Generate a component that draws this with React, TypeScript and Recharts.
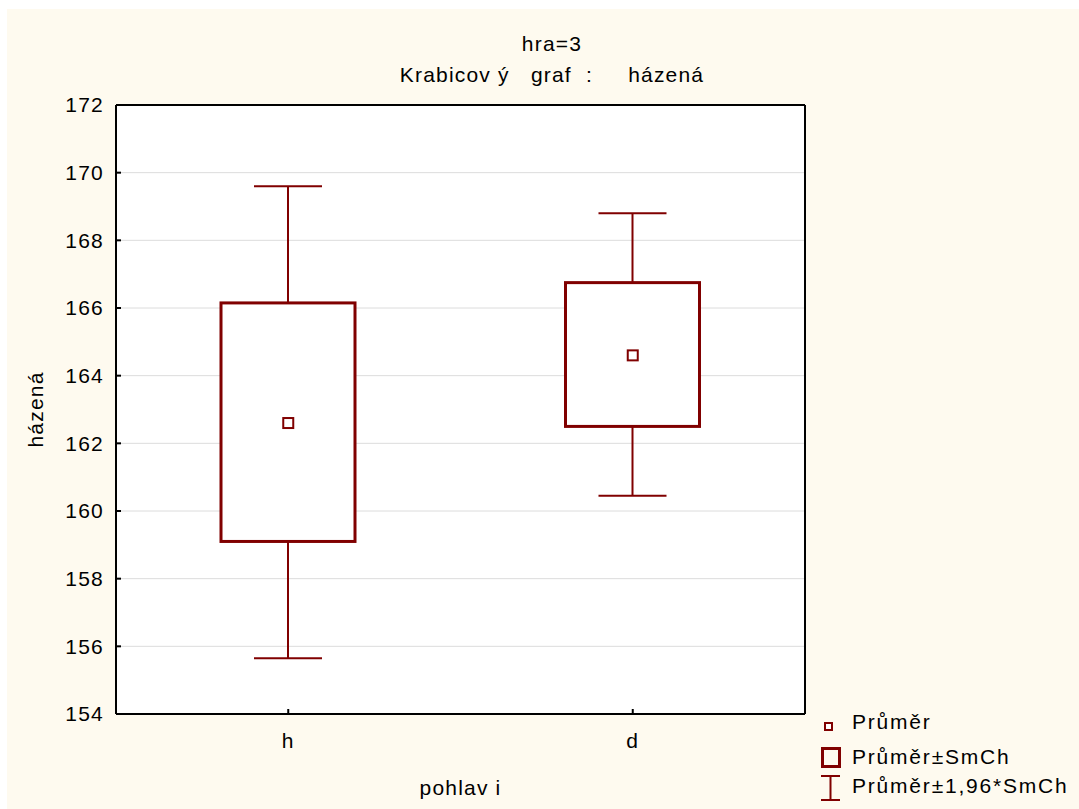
import { Bar, CartesianGrid, ComposedChart, Line, XAxis, YAxis } from "recharts";

// skupiny (pohlaví) a hodnoty pro házenou, hra=3
const categories = ["h", "d"];
const meanValues = [162.6, 164.6];
const seLow = [159.1, 162.5];
const seHigh = [166.15, 166.75];
const ciLow = [155.65, 160.45];
const ciHigh = [169.6, 168.8];
const yTicks = [154, 156, 158, 160, 162, 164, 166, 168, 170, 172];

const MAROON = "#800000";
const CREAM = "#fefaef";
const FONT = '"Liberation Sans", Arial, sans-serif';

const rows = categories.map((name, i) => ({
  name,
  mean: meanValues[i],
  box: [seLow[i], seHigh[i]],
  whisker: [ciLow[i], ciHigh[i]],
}));

function WhiskerShape(props: any) {
  const { x, y, width, height } = props;
  const top = Math.min(y, y + height);
  const bottom = Math.max(y, y + height);
  const cx = x + width / 2;
  return (
    <g stroke={MAROON} strokeWidth={2} fill="none">
      <line x1={cx} y1={top} x2={cx} y2={bottom} />
      <line x1={x} y1={top} x2={x + width} y2={top} />
      <line x1={x} y1={bottom} x2={x + width} y2={bottom} />
    </g>
  );
}

function BoxShape(props: any) {
  const { x, y, width, height } = props;
  const top = Math.min(y, y + height);
  return (
    <rect
      x={x}
      y={top}
      width={width}
      height={Math.abs(height)}
      fill="#fff"
      stroke={MAROON}
      strokeWidth={3}
    />
  );
}

function MeanDot(props: any) {
  const { cx, cy, index } = props;
  return (
    <rect
      key={index}
      x={cx - 5}
      y={cy - 5}
      width={10}
      height={10}
      fill="#fff"
      stroke={MAROON}
      strokeWidth={2}
    />
  );
}

const txt = { fontFamily: FONT, fontSize: 21, letterSpacing: 1.2, fill: "#000" };
const legendTxt = { ...txt, letterSpacing: 1.8 };

export default function App() {
  return (
    <div
      style={{
        position: "absolute",
        left: 7,
        top: 9,
        width: 1072,
        height: 800,
        background: CREAM,
        fontFamily: FONT,
      }}
    >
      <ComposedChart
        width={1072}
        height={800}
        data={rows}
        margin={{ top: 95, right: 273, bottom: 55, left: 0 }}
      >
        <CartesianGrid
          xAxisId="x"
          yAxisId="l"
          vertical={false}
          stroke="#dcdcdc"
          fill="#fff"
        />
        <XAxis
          xAxisId="x"
          dataKey="name"
          height={40}
          tickSize={-5}
          tickMargin={24}
          tick={{ ...txt }}
          axisLine={{ stroke: "#000", strokeWidth: 2 }}
          tickLine={{ stroke: "#000", strokeWidth: 2 }}
          label={(p: any) => (
            <text
              x={p.viewBox.x + p.viewBox.width / 2}
              y={786}
              textAnchor="middle"
              style={{ ...txt, whiteSpace: "pre" }}
            >
              pohlav i
            </text>
          )}
        />
        <XAxis
          xAxisId="t"
          dataKey="name"
          orientation="top"
          height={1}
          tick={false}
          tickSize={-5}
          axisLine={{ stroke: "#000", strokeWidth: 2 }}
          tickLine={{ stroke: "#000", strokeWidth: 2 }}
        />
        <YAxis
          yAxisId="l"
          domain={[154, 172]}
          ticks={yTicks}
          width={109}
          tickSize={-5}
          tickMargin={17}
          tick={{ ...txt }}
          axisLine={{ stroke: "#000", strokeWidth: 2 }}
          tickLine={{ stroke: "#000", strokeWidth: 2 }}
          label={(p: any) => {
            const x = 36;
            const y = p.viewBox.y + p.viewBox.height / 2;
            return (
              <text
                x={x}
                y={y}
                textAnchor="middle"
                transform={`rotate(-90 ${x} ${y})`}
                style={txt}
              >
                házená
              </text>
            );
          }}
        />
        <YAxis
          yAxisId="r"
          orientation="right"
          domain={[154, 172]}
          ticks={yTicks}
          width={1}
          tick={false}
          tickSize={-5}
          axisLine={{ stroke: "#000", strokeWidth: 2 }}
          tickLine={{ stroke: "#000", strokeWidth: 2 }}
        />
        <Bar
          xAxisId="x"
          yAxisId="l"
          dataKey="whisker"
          barSize={68}
          shape={WhiskerShape}
          isAnimationActive={false}
        />
        <Bar
          xAxisId="t"
          yAxisId="l"
          dataKey="box"
          barSize={134}
          shape={BoxShape}
          isAnimationActive={false}
        />
        <Line
          xAxisId="x"
          yAxisId="l"
          dataKey="mean"
          stroke="none"
          dot={MeanDot}
          activeDot={false}
          isAnimationActive={false}
        />
      </ComposedChart>

      <div
        style={{
          position: "absolute",
          left: 345,
          width: 400,
          top: 19,
          textAlign: "center",
          fontSize: 21,
          letterSpacing: 1.2,
          lineHeight: "31px",
          whiteSpace: "pre",
        }}
      >
        <div>hra=3</div>
        <div>Krabicov ý   graf  :     házená</div>
      </div>

      <svg
        style={{ position: "absolute", left: 805, top: 700 }}
        width={267}
        height={100}
      >
        <rect x={13} y={14} width={7} height={7} fill="#fff" stroke={MAROON} strokeWidth={2} />
        <text x={40} y={20} style={legendTxt}>Průměr</text>
        <rect x={10.5} y={39.5} width={17} height={18} fill="none" stroke={MAROON} strokeWidth={3} />
        <text x={40} y={55} style={legendTxt}>Průměr±SmCh</text>
        <g stroke={MAROON} strokeWidth={2}>
          <line x1={9} y1={67} x2={28} y2={67} />
          <line x1={18.5} y1={67} x2={18.5} y2={91} />
          <line x1={9} y1={91} x2={28} y2={91} />
        </g>
        <text x={40} y={84} style={legendTxt}>Průměr±1,96*SmCh</text>
      </svg>
    </div>
  );
}
